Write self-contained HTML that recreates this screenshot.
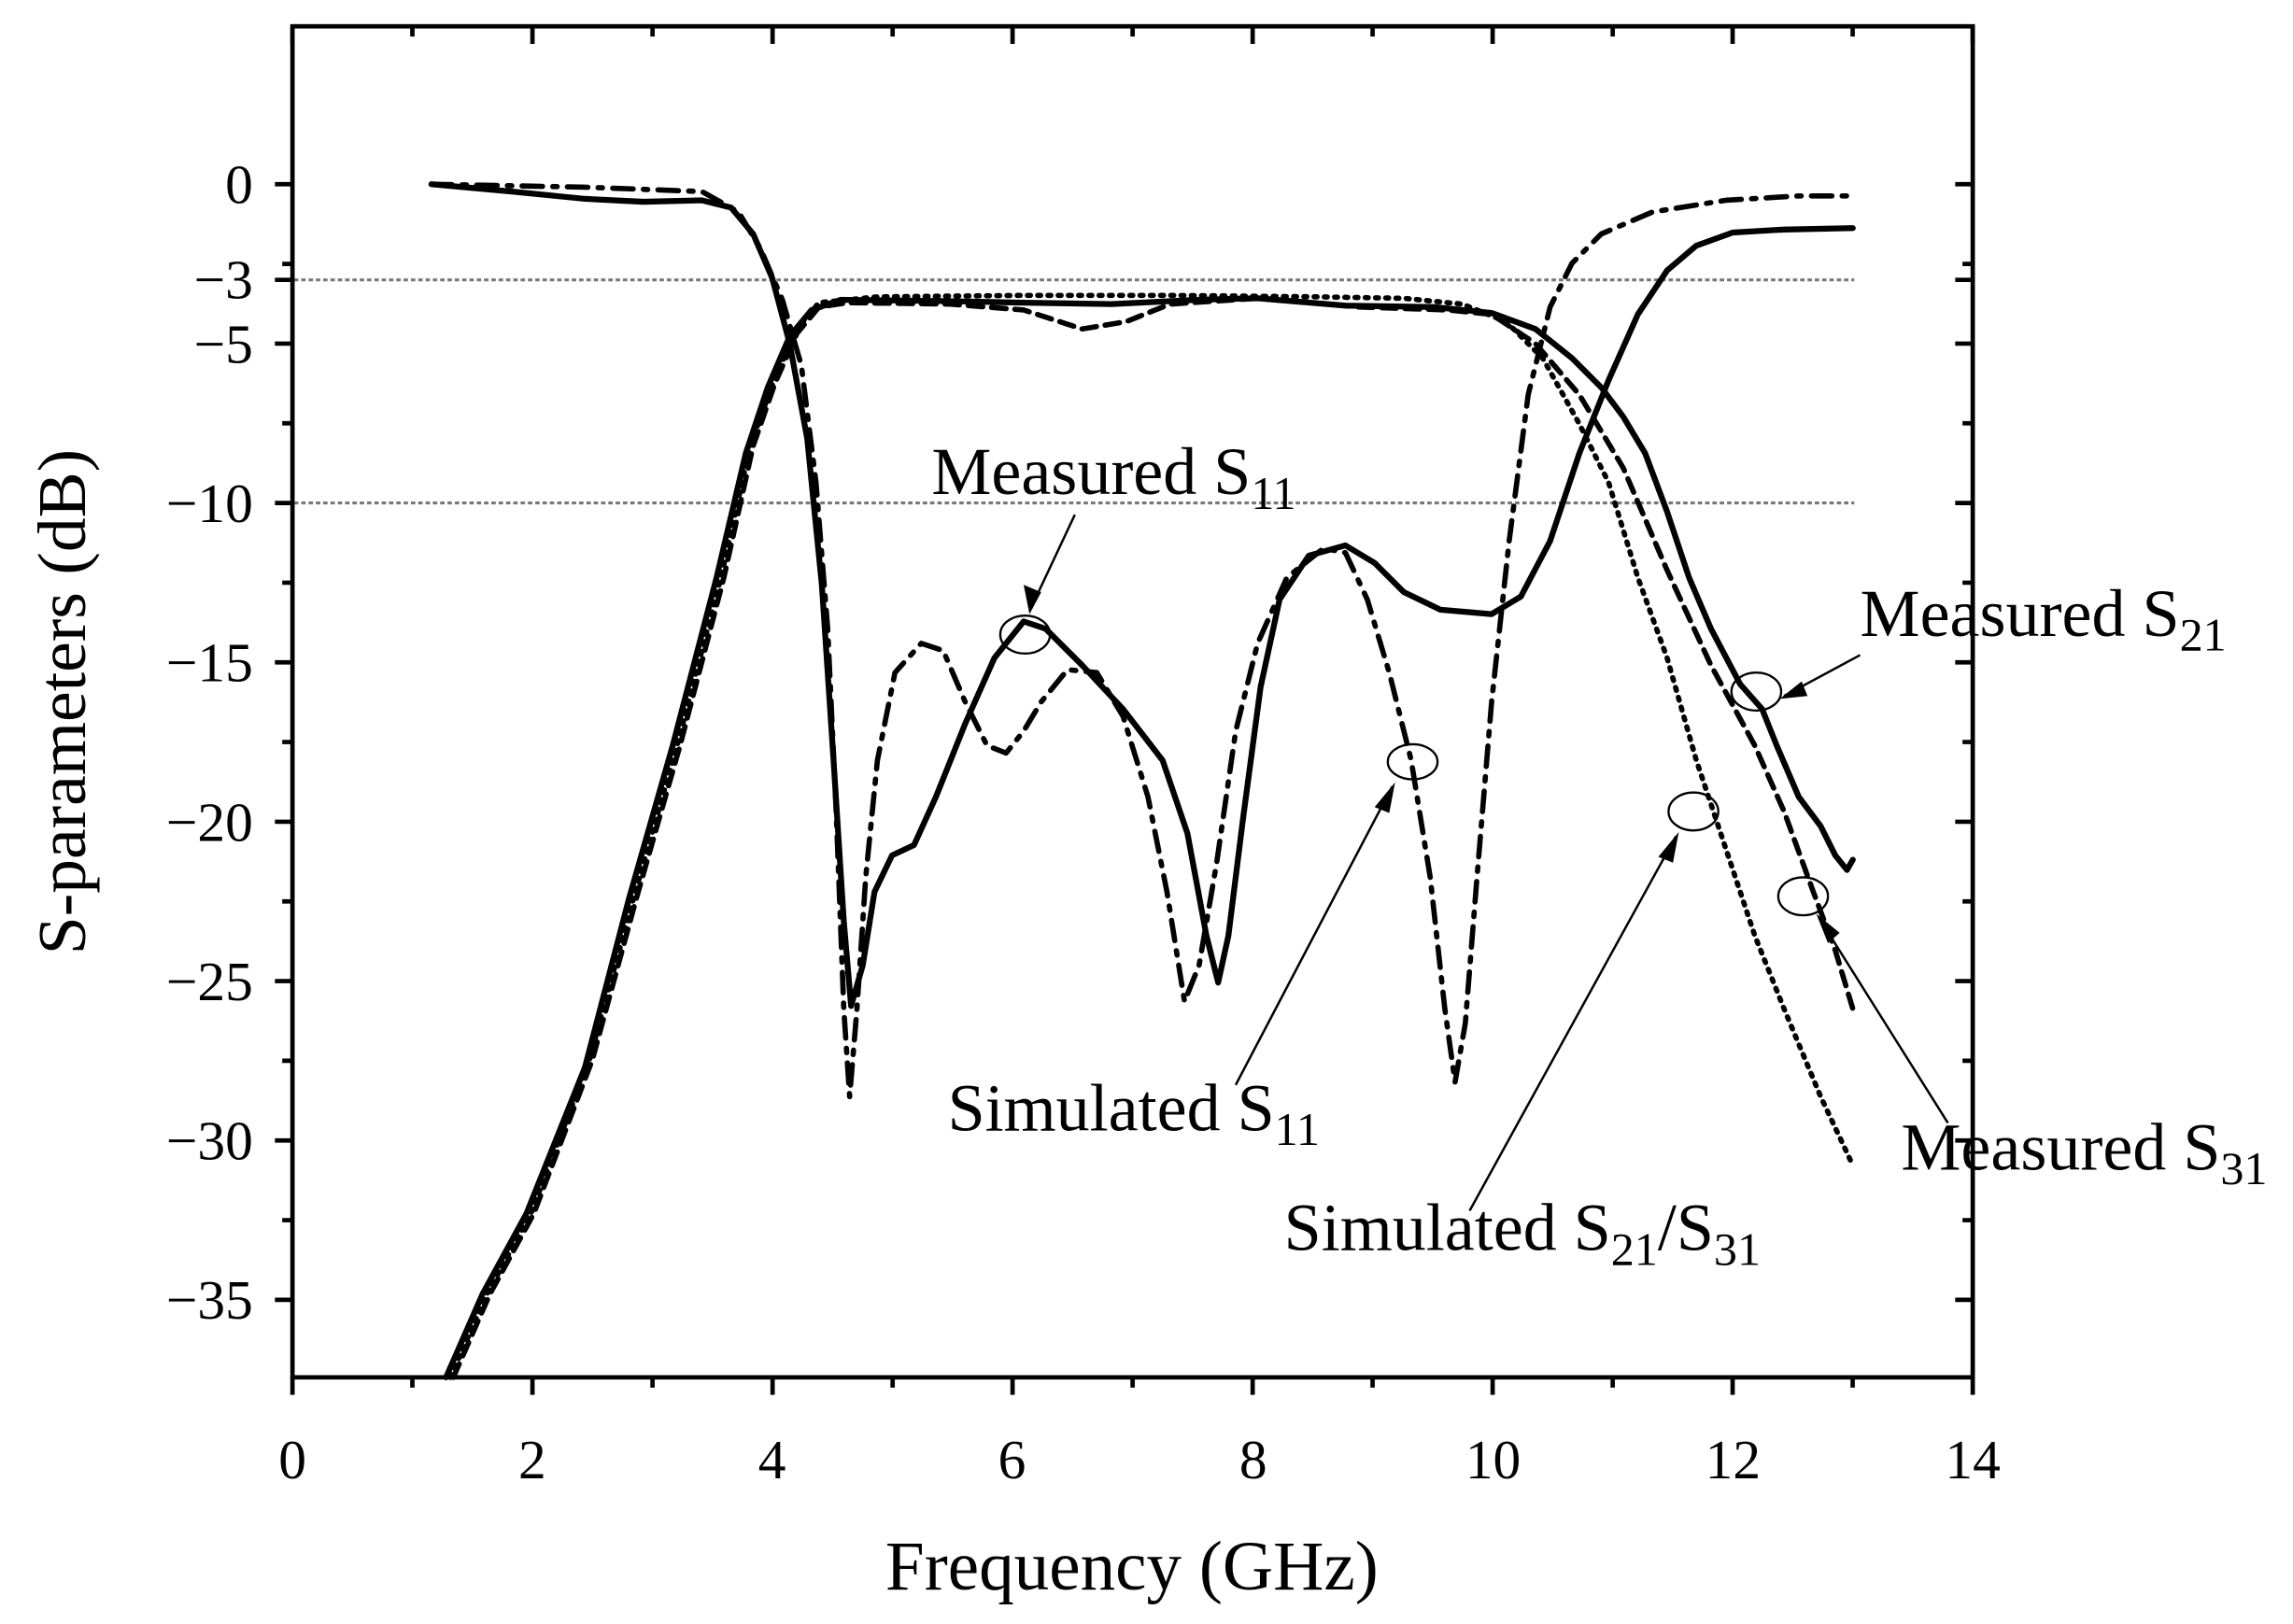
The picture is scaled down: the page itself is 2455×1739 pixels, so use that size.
<!DOCTYPE html>
<html><head><meta charset="utf-8"><style>html,body{margin:0;padding:0;background:#fff}svg{display:block}</style></head>
<body>
<svg width="2455" height="1739" viewBox="0 0 1568 1110.7" preserveAspectRatio="none" xmlns="http://www.w3.org/2000/svg" font-family="Liberation Serif, serif">
<rect width="1568" height="1111" fill="#fff"/>
<line x1="201" y1="191.4" x2="1268" y2="191.4" stroke="#777" stroke-width="2" stroke-dasharray="3,2"/>
<line x1="201" y1="344" x2="1268" y2="344" stroke="#777" stroke-width="2" stroke-dasharray="3,2"/>
<rect x="200" y="18" width="1149" height="924" fill="none" stroke="#000" stroke-width="3"/>
<g stroke="#000" stroke-width="3">
<path d="M200,942v12M364.1,942v12M528.3,942v12M692.4,942v12M856.6,942v12M1020.7,942v12M1184.8,942v12M1349,942v12"/>
<path d="M282,942v7M446.2,942v7M610.4,942v7M774.5,942v7M938.6,942v7M1102.8,942v7M1266.9,942v7"/>
<path d="M200,18v12M364.1,18v12M528.3,18v12M692.4,18v12M856.6,18v12M1020.7,18v12M1184.8,18v12M1349,18v12"/>
<path d="M282,18v7M446.2,18v7M610.4,18v7M774.5,18v7M938.6,18v7M1102.8,18v7M1266.9,18v7"/>
<path d="M200,126h-12M200,191.4h-12M200,235h-12M200,344h-12M200,453h-12M200,562h-12M200,671h-12M200,780h-12M200,889h-12"/>
<path d="M200,180.5h-7M200,289.5h-7M200,398.5h-7M200,507.5h-7M200,616.5h-7M200,725.5h-7M200,834.5h-7"/>
<path d="M1349,126h-12M1349,191.4h-12M1349,235h-12M1349,344h-12M1349,453h-12M1349,562h-12M1349,671h-12M1349,780h-12M1349,889h-12"/>
<path d="M1349,180.5h-7M1349,289.5h-7M1349,398.5h-7M1349,507.5h-7M1349,616.5h-7M1349,725.5h-7M1349,834.5h-7"/>
</g>
<g font-size="38" text-anchor="middle">
<text x="200" y="1011">0</text><text x="364" y="1011">2</text><text x="528" y="1011">4</text><text x="692" y="1011">6</text><text x="857" y="1011">8</text><text x="1021" y="1011">10</text><text x="1185" y="1011">12</text><text x="1349" y="1011">14</text>
</g>
<g font-size="38" text-anchor="end">
<text x="173" y="139">0</text><text x="173" y="204">−3</text><text x="173" y="248">−5</text><text x="173" y="357">−10</text><text x="173" y="466">−15</text><text x="173" y="575">−20</text><text x="173" y="684">−25</text><text x="173" y="793">−30</text><text x="173" y="902">−35</text>
</g>
<text x="774" y="1087" font-size="48" text-anchor="middle">Frequency (GHz)</text>
<text transform="translate(58,480) rotate(-90)" font-size="47" text-anchor="middle">S-parameters (dB)</text>

<g fill="none" stroke="#000" stroke-linejoin="round" stroke-linecap="round">
<path stroke-width="4" d="M295,126 L350,131 L400,136 L440,138 L480,137 L500,142 L515,160 L528,190 L540,235 L552,300 L562,400 L570,520 L577,630 L582,688 L590,660 L598,610 L610,585 L625,578 L640,545 L660,495 L680,450 L700,425 L715,430 L740,455 L768,485 L795,520 L812,570 L825,640 L833,672 L840,640 L850,560 L862,470 L875,410 L895,380 L920,373 L940,385 L960,405 L985,417 L1020,420 L1040,408 L1060,370 L1080,310 L1100,260 L1120,215 L1140,185 L1160,168 L1185,159 L1220,157 L1267,156"/>
<path stroke-width="4" d="M305,942 L330,885 L360,830 L400,730 L430,615 L460,510 L490,395 L510,310 L525,265 L540,230 L555,212 L575,205 L650,206 L700,207 L760,208 L820,205 L860,204 L920,209 L980,210 L1020,214 L1050,225 L1075,245 L1095,265 L1110,285 L1125,310 L1140,350 L1155,395 L1170,430 L1190,468 L1205,485 L1215,510 L1230,545 L1245,565 L1255,585 L1263,595 L1267,588"/>
<path stroke-width="3.6" stroke-dasharray="10,6" d="M310,942 L335,885 L365,830 L405,725 L435,615 L465,510 L495,395 L515,305 L530,262 L545,228 L560,210 L580,207 L650,208 L700,212 L740,225 L770,220 L800,208 L860,204 L930,210 L990,212 L1020,215 L1050,235 L1080,270 L1110,320 L1140,390 L1170,455 L1200,510 L1220,555 L1240,610 L1255,650 L1267,690"/>
<path stroke-width="3.6" stroke-dasharray="2,5" d="M308,942 L333,885 L363,830 L403,725 L433,615 L463,510 L493,395 L513,305 L530,258 L545,225 L560,207 L600,203 L700,202 L800,202 L900,203 L960,204 L1000,208 L1030,220 L1055,245 L1080,290 L1100,330 L1120,395 L1140,450 L1160,520 L1180,580 L1200,640 L1220,690 L1245,750 L1267,797"/>
<path stroke-width="3.6" stroke-dasharray="14,7,3,7" d="M295,126 L400,128 L480,131 L505,145 L520,170 L535,205 L548,250 L558,330 L566,430 L572,560 L577,690 L581,750 L586,690 L592,600 L600,520 L612,460 L630,440 L645,445 L660,480 L675,510 L688,515 L700,500 L712,480 L730,458 L750,460 L768,490 L785,545 L798,610 L810,685 L820,660 L832,590 L845,500 L860,440 L880,395 L905,375 L920,378 L935,410 L950,460 L965,520 L978,600 L988,690 L995,740 L1002,700 L1010,600 L1020,480 L1032,370 L1045,270 L1060,210 L1075,180 L1095,160 L1130,145 L1180,137 L1230,134 L1267,134"/>
</g>
<g fill="none" stroke="#000" stroke-width="1.5">
<ellipse cx="701" cy="434" rx="17" ry="13"/>
<ellipse cx="966" cy="521" rx="17" ry="12"/>
<ellipse cx="1158" cy="555" rx="17" ry="13"/>
<ellipse cx="1233" cy="613" rx="17" ry="13"/>
<ellipse cx="1201" cy="473" rx="17" ry="13"/>
</g>
<g stroke="#000" stroke-width="1.6" fill="none">
<line x1="735" y1="352" x2="704" y2="418"/>
<line x1="845" y1="742" x2="952" y2="538"/>
<line x1="1005" y1="828" x2="1146" y2="572"/>
<line x1="1272" y1="448" x2="1220" y2="476"/>
<line x1="1332" y1="768" x2="1244" y2="628"/>
</g>
<g fill="#000">
<polygon points="704,420 700,400 712,405"/>
<polygon points="954,535 940,552 950,556"/>
<polygon points="1148,569 1134,586 1144,590"/>
<polygon points="1217,478 1232,466 1236,476"/>
<polygon points="1242,625 1250,645 1258,638"/>
</g>
<g font-size="46">
<text x="637" y="338">Measured S<tspan font-size="32" dy="10">11</tspan></text>
<text x="648" y="773">Simulated S<tspan font-size="32" dy="10">11</tspan></text>
<text x="878" y="855">Simulated S<tspan font-size="32" dy="10">21</tspan><tspan dy="-10">/S</tspan><tspan font-size="32" dy="10">31</tspan></text>
<text x="1272" y="435">Measured S<tspan font-size="32" dy="10">21</tspan></text>
<text x="1300" y="800">Measured S<tspan font-size="32" dy="10">31</tspan></text>
</g>
</svg>
</body></html>
